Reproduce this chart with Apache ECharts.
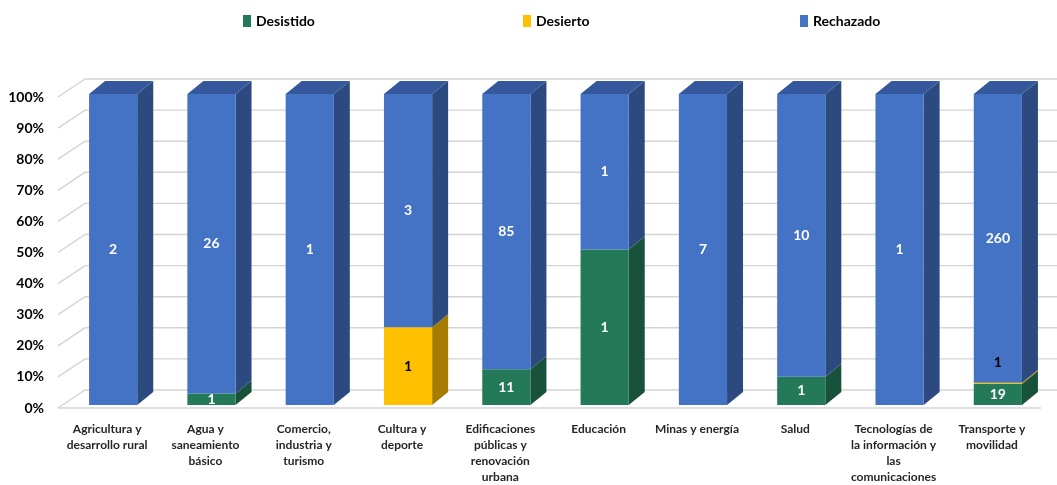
<!DOCTYPE html>
<html>
<head>
<meta charset="utf-8">
<script src="https://cdn.jsdelivr.net/npm/echarts@6/dist/echarts.min.js"></script>
<style>html,body{margin:0;padding:0;background:#fff}#c{width:1057px;height:485px}</style>
</head>
<body>
<div id="c"></div>
<script>
// ---- data ----
const categories = [
  'Agricultura y\ndesarrollo rural',
  'Agua y\nsaneamiento\nbásico',
  'Comercio,\nindustria y\nturismo',
  'Cultura y\ndeporte',
  'Edificaciones\npúblicas y\nrenovación\nurbana',
  'Educación',
  'Minas y energía',
  'Salud',
  'Tecnologías de\nla información y\nlas\ncomunicaciones',
  'Transporte y\nmovilidad'
];
const desistido = [0, 1, 0, 0, 11, 1, 0, 1, 0, 19];
const desierto  = [0, 0, 0, 1, 0, 0, 0, 0, 0, 1];
const rechazado = [2, 26, 1, 3, 85, 1, 7, 10, 1, 260];
const seriesNames = ['Desistido', 'Desierto', 'Rechazado'];
const yTicks = [0, 10, 20, 30, 40, 50, 60, 70, 80, 90, 100];

// ---- styles ----
const FONT = 'Lato, "Open Sans", sans-serif';
const palette = [
  {front: '#247A58', side: '#19523B', top: '#1E6649', label: '#ffffff'},
  {front: '#FFC000', side: '#A67C00', top: '#D9A400', label: '#000000'},
  {front: '#4472C4', side: '#2C4A80', top: '#34589B', label: '#ffffff'}
];
const BAR_OFF = [6, -3];   // bar front face offset from front plane
const DEPTH = [16, -13];   // bar depth
const WALL = [27, -18];    // back wall offset

const raw = [desistido, desierto, rechazado];
const totals = categories.map((_, i) => raw.reduce((s, a) => s + a[i], 0));

function seriesData(k) {
  return categories.map((_, i) => {
    let base = 0;
    for (let j = 0; j < k; j++) base += raw[j][i];
    const v = raw[k][i];
    let above = 0;
    for (let j = k + 1; j < raw.length; j++) above += raw[j][i];
    return [i, base / totals[i] * 100, (base + v) / totals[i] * 100, v, above === 0 ? 1 : 0];
  });
}

function makeRender(col) {
  return function (params, api) {
    const v = api.value(3);
    if (!v) return {type: 'group', children: []};
    const ci = api.value(0);
    const band = api.size([1, 0])[0];
    const w = band * 0.49;
    const c0 = api.coord([ci, api.value(1)]);
    const c1 = api.coord([ci, api.value(2)]);
    const x = c0[0] - w / 2 + BAR_OFF[0];
    const yb = c0[1] + BAR_OFF[1];
    const yt = c1[1] + BAR_OFF[1];
    const ch = [];
    ch.push({type: 'polygon', shape: {points: [[x + w, yb], [x + w + DEPTH[0], yb + DEPTH[1]], [x + w + DEPTH[0], yt + DEPTH[1]], [x + w, yt]]},
      style: {fill: col.side}});
    ch.push({type: 'rect', shape: {x: x, y: yt, width: w, height: Math.max(yb - yt, 0.8)}, style: {fill: col.front}});
    if (api.value(4)) {
      ch.push({type: 'polygon', shape: {points: [[x, yt], [x + DEPTH[0], yt + DEPTH[1]], [x + w + DEPTH[0], yt + DEPTH[1]], [x + w, yt]]},
        style: {fill: col.top}});
    }
    const h = yb - yt;
    const ly = (yb + yt) / 2 + (h < 6 ? -21 : 0);
    ch.push({type: 'text', z2: 10, style: {text: String(v), x: x + w / 2, y: ly, align: 'center', verticalAlign: 'middle',
      fill: col.label, font: 'bold 14px ' + FONT}});
    return {type: 'group', children: ch};
  };
}

const gridSeries = {
  type: 'custom', silent: true, z: 0,
  data: yTicks.map(t => [0, t]),
  renderItem: function (params, api) {
    const cs = params.coordSys;
    const y = api.coord([0, api.value(1)])[1];
    const ch = [{type: 'polyline', shape: {points: [[cs.x, y], [cs.x + WALL[0], y + WALL[1]], [cs.x + cs.width + 60, y + WALL[1]]]},
      style: {stroke: '#D4D4D4', lineWidth: 1.4, fill: null}}];
    if (api.value(1) === 0) {
      ch.push({type: 'line', shape: {x1: cs.x, y1: y, x2: cs.x + cs.width, y2: y}, style: {stroke: '#D4D4D4', lineWidth: 1.4}});
    }
    return {type: 'group', children: ch};
  }
};

const barSeries = seriesNames.map((n, k) => ({
  name: n, type: 'custom', z: 2,
  itemStyle: {color: palette[k].front},
  data: seriesData(k),
  encode: {x: 0, y: [1, 2]},
  renderItem: makeRender(palette[k])
}));

const legendX = [238, 518, 795];
const chart = echarts.init(document.getElementById('c'));
chart.setOption({
  animation: false,
  legend: seriesNames.map((n, k) => ({
    data: [n], left: legendX[k], top: 9, itemWidth: 8, itemHeight: 12, itemGap: 4, icon: 'rect',
    textStyle: {fontFamily: FONT, fontWeight: 'bold', fontSize: 14, color: '#000'}
  })),
  grid: {left: 58, right: 16, top: 97, bottom: 74},
  xAxis: {
    type: 'category', data: categories,
    axisLine: {show: false}, axisTick: {show: false},
    axisLabel: {interval: 0, margin: 13, fontFamily: FONT, fontWeight: 'bold', fontSize: 12, lineHeight: 16, color: '#262626'}
  },
  yAxis: {
    type: 'value', min: 0, max: 100, interval: 10,
    splitLine: {show: false}, axisLine: {show: false}, axisTick: {show: false},
    axisLabel: {formatter: '{value}%', margin: 14, fontFamily: FONT, fontWeight: 'bold', fontSize: 14, color: '#000'}
  },
  series: [gridSeries].concat(barSeries)
});
</script>
</body>
</html>
